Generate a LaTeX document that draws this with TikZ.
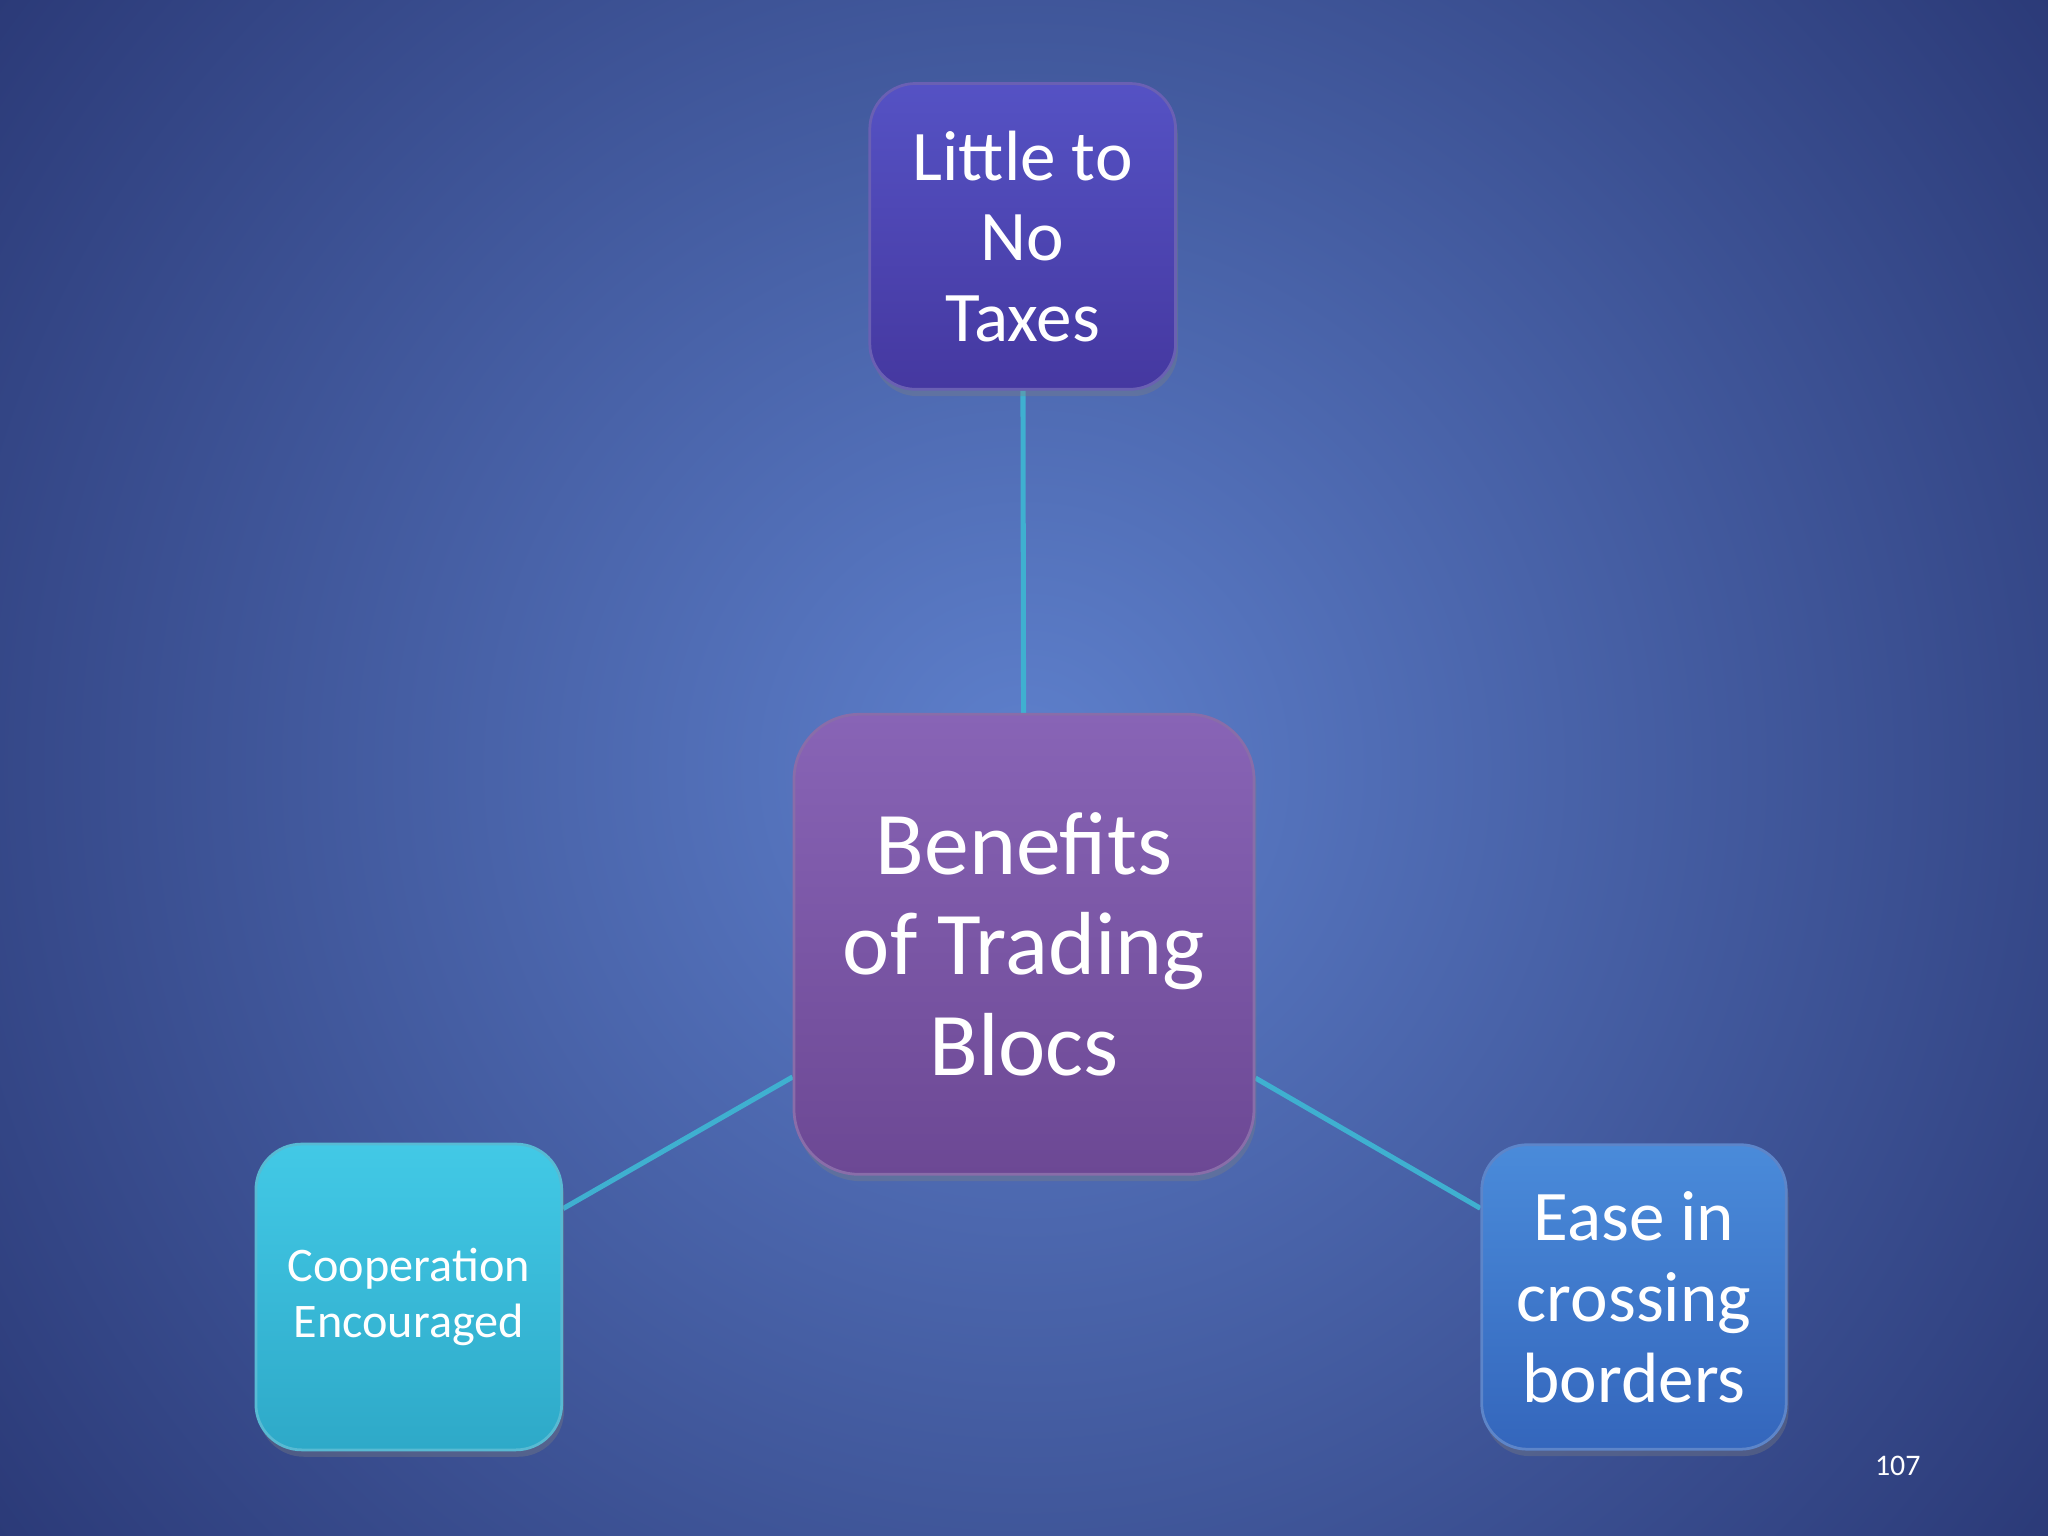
\documentclass[tikz,border=0pt]{standalone}
\usepackage{fontspec}
\setmainfont{Carlito}
\usetikzlibrary{backgrounds,shadows}
\definecolor{bgin}{HTML}{5E80CC}
\definecolor{bgout}{HTML}{1E2862}
\definecolor{topT}{HTML}{5552C4}\definecolor{topB}{HTML}{4538A0}
\definecolor{cenT}{HTML}{8864B6}\definecolor{cenB}{HTML}{6C4894}
\definecolor{lefT}{HTML}{42C9E6}\definecolor{lefB}{HTML}{2EA9C8}
\definecolor{rigT}{HTML}{4A8BDA}\definecolor{rigB}{HTML}{3466BC}
\definecolor{link}{HTML}{3FB0D0}
\tikzset{
  box/.style={draw=white!20!#1, line width=0.6pt, text=white, align=center, inner sep=0pt, drop shadow={opacity=0.35,shadow xshift=0.5pt,shadow yshift=-1.5pt}},
  link/.style={draw=link, line width=1.1pt}
}
\begin{document}
\begin{tikzpicture}[x=0.01cm,y=-0.01cm]
\useasboundingbox (0,0) rectangle (1568,1176);
\node[box=topB, minimum width=2.34cm, minimum height=2.34cm, rounded corners=0.35cm, top color=topT, bottom color=topB, font=\fontsize{15.5}{17.6}\selectfont] (t) at (783,181) {Little to\\No\\Taxes};
\node[box=cenB, minimum width=3.52cm, minimum height=3.52cm, rounded corners=0.5cm, top color=cenT, bottom color=cenB, font=\fontsize{19.5}{21.8}\selectfont] (c) at (784,723) {Benefits\\of Trading\\Blocs};
\node[box=lefB, minimum width=2.34cm, minimum height=2.34cm, rounded corners=0.35cm, top color=lefT, bottom color=lefB, font=\fontsize{10.5}{12}\selectfont] (l) at (313,993) {Cooperation\\Encouraged};
\node[box=rigB, minimum width=2.33cm, minimum height=2.33cm, rounded corners=0.35cm, top color=rigT, bottom color=rigB, font=\fontsize{15.5}{17.6}\selectfont] (r) at (1251,993) {Ease in\\crossing\\borders};
\node[text=white, font=\fontsize{6.5}{7}\selectfont] (pg) at (1453,1122) {107};
\begin{pgfonlayer}{background}
\begin{scope}
\clip (0,0) rectangle (1568,1176);
\shade[inner color=bgin, outer color=bgout] (-450,-650) rectangle (2018,1826);
\end{scope}
\draw[link] (c) -- (t);
\draw[link] (c) -- (l);
\draw[link] (c) -- (r);
\end{pgfonlayer}
\end{tikzpicture}
\end{document}
